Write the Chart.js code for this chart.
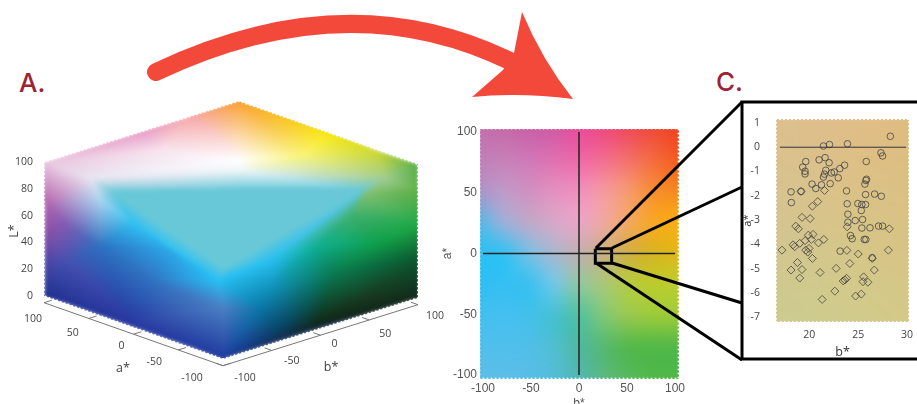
<!DOCTYPE html>
<html>
<head>
<meta charset="utf-8">
<title>CIELAB colour space</title>
<script src="https://cdn.jsdelivr.net/npm/chart.js@4"></script>
<style>
    html, body { margin: 0; padding: 0; width: 917px; height: 404px; overflow: hidden; background: #fff; }
    canvas, svg { position: absolute; }
    #chartCube { left: 0; top: 90px; }
    #chartSlice { left: 440px; top: 118px; }
    #chartZoom { left: 741px; top: 105px; }
    #overlay, #zoomLines { left: 0; top: 0; }
    .letter { font: 500 26px Inter, sans-serif; fill: #9b2335; }
</style>
</head>
<body>
<svg id="overlay" width="917" height="404">
    <path d="M156,72 Q347,-19 512,62" fill="none" stroke="#f2493b" stroke-width="18" stroke-linecap="round"/>
    <path d="M522,12 Q542,60 573,99 Q520,92 472,97 L503,70 L514,53 Z" fill="#f2493b"/>
    <text class="letter" x="19" y="92">A.</text>
    <text class="letter" x="716" y="91">C.</text>
    <rect x="742" y="102" width="190" height="257" fill="#fff" stroke="#000" stroke-width="3"/>
</svg>
<canvas id="chartCube" width="450" height="314"></canvas>
<canvas id="chartSlice" width="260" height="293"></canvas>
<canvas id="chartZoom" width="190" height="255"></canvas>
<svg id="zoomLines" width="917" height="404">
    <g stroke="#000" stroke-width="3">
        <line x1="596" y1="248" x2="742" y2="102"/>
        <line x1="612" y1="248" x2="742" y2="187"/>
        <line x1="612" y1="263" x2="742" y2="303"/>
        <line x1="596" y1="263" x2="742" y2="360"/>
    </g>
</svg>
<script>
// Panel A axes
const cubeATicks = [100, 50, 0, -50, -100];
const cubeBTicks = [-100, -50, 0, 50, 100];
const cubeLTicks = [0, 20, 40, 60, 80, 100];

const sliceRows = [
    ['#c070b0', '#c46aa8', '#c860a8', '#d05aa5', '#e84c9a', '#ee4a80', '#ef4a5a', '#ef4a38', '#ef4423'],
    ['#c080b8', '#c880b8', '#d078b8', '#e070b0', '#ee68a8', '#f26e90', '#f4706a', '#f56b3f', '#f45a20'],
    ['#ac94c8', '#c09ac8', '#d090c0', '#e590c0', '#f090bf', '#f59a9f', '#f79a6f', '#f78d2e', '#f58a1f'],
    ['#55b8e8', '#a0b0d8', '#c0a8c8', '#d8a8c8', '#eaa5c8', '#f0a8a0', '#f3a860', '#f8a820', '#fbae14'],
    ['#2cc0f2', '#30c2f4', '#78c0e4', '#a8b8d0', '#c0b0b0', '#c8b080', '#d0b040', '#d8b420', '#e0b818'],
    ['#30bef2', '#35bff2', '#38c0f0', '#70c8e8', '#90c8a0', '#a8c878', '#b4cc40', '#bccc2c', '#bccd30'],
    ['#44bff0', '#45c0f0', '#42c0ea', '#44c0d0', '#50c0a0', '#80c878', '#98c850', '#9acb3a', '#9ccb38'],
    ['#50bfec', '#50bfec', '#50bfe8', '#50bfd0', '#50b8a0', '#55b870', '#50b84a', '#4fb848', '#4fb848'],
    ['#5cbee8', '#5cbee8', '#58bde6', '#55bcd8', '#50b8b0', '#5ab880', '#58b85c', '#50b848', '#4fb848']
];
const sliceHorizontalB = [-100, 100];
const sliceVerticalA = [100, -100];
const zoomBoxB = [17, 34];
const zoomBoxA = [4, -8];

// Panel C: background colours and the two groups of samples
const zoomRows = [
    ['#dcc08e', '#e0bd88', '#e0bc80'],
    ['#d4c490', '#d8c488', '#d8c284'],
    ['#cccb90', '#cfcc8c', '#d3c988']
];
const circleB = [28.29, 21.45, 22.07, 23.91, 27.33, 27.5, 21.62, 21.01, 22.03, 25.83, 19.64, 19.33, 19.57, 19.57, 23.61, 23.13, 22.55, 22.27, 21.69, 21.56, 21.45, 22.96, 25.86, 25.79, 25.69, 20.29, 21.25, 22.14, 20.67, 18.14, 19.16, 23.81, 25.76, 26.68, 27.37, 18.17, 23.88, 24.97, 25.76, 25.38, 25.32, 23.95, 24.7, 25.45, 23.95, 25.38, 26.21, 27.09, 27.5, 24.22, 24.39, 25.62, 25.79, 23.16, 26.44];
const circleA = [0.45, 0.05, 0.11, 0.14, -0.23, -0.36, -0.43, -0.52, -0.64, -0.59, -0.59, -0.82, -0.99, -1.1, -0.74, -0.88, -1.02, -1.06, -0.95, -1.11, -1.23, -1.26, -1.32, -1.37, -1.52, -1.52, -1.55, -1.5, -1.7, -1.84, -1.82, -1.8, -1.95, -1.93, -2.02, -2.28, -2.33, -2.32, -2.36, -2.36, -2.61, -2.76, -3.02, -2.98, -3.09, -3.33, -3.32, -3.25, -3.25, -3.64, -3.77, -3.8, -3.8, -4.28, -4.55];
const diamondB = [21.56, 19.16, 20.87, 20.32, 19.26, 20.09, 18.62, 18.89, 23.88, 28.19, 17.21, 18.34, 18.51, 19.03, 19.57, 19.91, 20.39, 20.22, 21.49, 20.94, 19.98, 19.64, 19.85, 20.32, 23.85, 25.01, 28.09, 26.44, 24.15, 18.79, 18.14, 19.26, 19.03, 21.11, 22.75, 26.65, 25.56, 23.81, 23.64, 23.47, 25.49, 26, 22.62, 21.32, 24.74, 25.32];
const diamondA = [-1.78, -1.82, -2.24, -2.43, -2.89, -2.94, -3.25, -3.36, -3.28, -3.36, -4.24, -4.02, -4.1, -3.96, -3.85, -3.62, -3.59, -3.8, -3.8, -3.94, -4.17, -4.24, -4.32, -4.58, -4.25, -4.4, -4.24, -4.58, -4.79, -4.75, -5.06, -5.04, -5.39, -5.16, -4.99, -5.06, -5.34, -5.4, -5.47, -5.51, -5.54, -5.56, -5.93, -6.27, -6.13, -6.05];
const zeroLineB = [17, 29.9];

// Colour mesh of the cube surface, page position and colour of each corner
const cubeMeshPoints = [
    [240, 100, '#f9a02c'], [140, 131, '#e89cc8'], [44, 162, '#e8c4de'], [330, 131, '#f8e60c'], [418, 164, '#58b048'],
    [375, 150, '#cfd92a'], [190, 116, '#f6a8a8'], [240, 160, '#ffffff'], [160, 150, '#f8e4ee'], [300, 155, '#faf47a'],
    [90, 178, '#e8e4f0'], [385, 178, '#a0cc90'], [240, 170, '#eef6f8'], [113, 192, '#68c8d8'], [360, 190, '#68c8d8'],
    [240, 190, '#68c8d8'], [223, 267, '#68c8d8'], [44, 200, '#b868b0'], [44, 228, '#9050a8'], [44, 262, '#4c44a4'],
    [44, 296, '#20308f'], [100, 200, '#a8d4f0'], [133, 223, '#30c0f2'], [100, 247, '#2c70c0'], [67, 225, '#7c5cb4'],
    [67, 262, '#4450b0'], [133, 323, '#2838a0'], [170, 250, '#2ca8e8'], [217, 280, '#28c0f4'], [223, 307, '#4a80c4'],
    [223, 359, '#1e3a9e'], [150, 280, '#3070c0'], [273, 258, '#28c0f0'], [317, 245, '#10b090'], [350, 215, '#40b070'],
    [383, 240, '#10a048'], [418, 190, '#60b048'], [418, 223, '#22a848'], [418, 257, '#0c5a30'], [418, 298, '#12261a'],
    [367, 297, '#18381f'], [333, 273, '#0a7a50'], [273, 287, '#1090b8'], [260, 307, '#0a78a8'], [283, 330, '#083c5c'],
    [317, 323, '#102818'], [240, 330, '#1a60a8'], [365, 195, '#7cbe70']
];
const cubeMeshTriangles = [
    [7, 0, 6], [7, 6, 8], [6, 1, 8], [8, 1, 2], [8, 2, 10], [7, 8, 10], [7, 10, 12], [7, 0, 9], [0, 3, 9], [3, 5, 9],
    [5, 4, 11], [5, 11, 9], [9, 11, 12], [9, 12, 7], [0, 1, 6], [10, 13, 15], [10, 15, 12], [12, 15, 14], [12, 14, 11], [11, 14, 47],
    [4, 11, 36], [11, 47, 36], [47, 14, 34], [47, 34, 37], [47, 37, 36], [13, 15, 16], [15, 14, 16], [14, 34, 32], [14, 32, 16], [16, 32, 28],
    [34, 33, 32], [34, 35, 33], [34, 37, 35], [37, 38, 35], [35, 38, 41], [35, 41, 33], [38, 39, 40], [38, 40, 41], [33, 41, 42], [33, 42, 32],
    [32, 42, 28], [41, 40, 45], [41, 45, 44], [41, 44, 42], [42, 44, 43], [42, 43, 28], [28, 43, 29], [43, 46, 29], [43, 44, 46], [44, 30, 46],
    [46, 30, 29], [44, 45, 30], [45, 39, 30], [40, 39, 45], [13, 16, 22], [16, 28, 22], [13, 22, 21], [10, 13, 21], [2, 10, 17], [10, 21, 17],
    [17, 21, 24], [21, 22, 23], [21, 23, 24], [17, 24, 18], [18, 24, 25], [18, 25, 19], [24, 23, 25], [19, 25, 20], [25, 23, 26], [25, 26, 20],
    [20, 26, 30], [23, 22, 27], [22, 28, 27], [23, 27, 31], [27, 28, 31], [23, 31, 26], [31, 28, 29], [31, 29, 26], [26, 29, 30]
];

const labelFont = '"Open Sans", sans-serif';
const sliceFont = '"Liberation Sans", sans-serif';

/**
 * Oblique view of the a*, b*, L* box, result is in page pixels
 */
function project(a, b, L) {
    const ta = (a + 100) / 200;
    const tb = (b + 100) / 200;
    return { x: 223 - 179 * ta + 195 * tb, y: 359 - 63 * ta - 61 * tb - 1.34 * L };
}

function hexToRgb(hex) {
    return [1, 3, 5].map(i => parseInt(hex.substr(i, 2), 16));
}

/**
 * Plugin: paints a table of colours behind the datasets, positioned by the chart's scales
 */
const colorFieldPlugin = {
    id: 'colorField',
    beforeDatasetsDraw(chart, args, opts) {
        const { ctx, scales } = chart;
        const rows = opts.rows;
        const off = document.createElement('canvas');
        off.width = rows[0].length;
        off.height = rows.length;
        const offCtx = off.getContext('2d');
        rows.forEach((row, r) => row.forEach((color, c) => {
            offCtx.fillStyle = color;
            offCtx.fillRect(c, r, 1, 1);
        }));
        const left = scales.x.getPixelForValue(opts.xRange[0]) - opts.pad;
        const right = scales.x.getPixelForValue(opts.xRange[1]) + opts.pad;
        const top = scales.y.getPixelForValue(opts.yRange[0]) - opts.pad;
        const bottom = scales.y.getPixelForValue(opts.yRange[1]) + opts.pad;
        ctx.save();
        ctx.imageSmoothingEnabled = true;
        ctx.imageSmoothingQuality = 'high';
        ctx.drawImage(off, 0.5, 0.5, off.width - 1, off.height - 1, left, top, right - left, bottom - top);
        // little white dots along the rim, the source was built from round markers
        ctx.strokeStyle = '#fff';
        ctx.lineWidth = 2;
        ctx.lineCap = 'round';
        ctx.setLineDash([0, 4]);
        ctx.strokeRect(left, top, right - left, bottom - top);
        ctx.restore();
    }
};

/**
 * Plugin: colours the visible sides of the cube and writes its axis labels
 */
const cubePlugin = {
    id: 'cubeSurface',
    beforeDatasetsDraw(chart) {
        const { ctx, scales, width, height } = chart;
        const ox = scales.x.min;
        const oy = scales.y.min;
        const off = document.createElement('canvas');
        off.width = width;
        off.height = height;
        const offCtx = off.getContext('2d');
        const img = offCtx.createImageData(width, height);
        cubeMeshTriangles.forEach(tri => {
            const [p0, p1, p2] = tri.map(i => cubeMeshPoints[i]);
            const [c0, c1, c2] = tri.map(i => hexToRgb(cubeMeshPoints[i][2]));
            const det = (p1[1] - p2[1]) * (p0[0] - p2[0]) + (p2[0] - p1[0]) * (p0[1] - p2[1]);
            const minX = Math.floor(Math.min(p0[0], p1[0], p2[0])) - 2;
            const maxX = Math.ceil(Math.max(p0[0], p1[0], p2[0])) + 2;
            const minY = Math.floor(Math.min(p0[1], p1[1], p2[1])) - 2;
            const maxY = Math.ceil(Math.max(p0[1], p1[1], p2[1])) + 2;
            for (let y = minY; y <= maxY; y++) {
                for (let x = minX; x <= maxX; x++) {
                    let w0 = ((p1[1] - p2[1]) * (x - p2[0]) + (p2[0] - p1[0]) * (y - p2[1])) / det;
                    let w1 = ((p2[1] - p0[1]) * (x - p2[0]) + (p0[0] - p2[0]) * (y - p2[1])) / det;
                    let w2 = 1 - w0 - w1;
                    if (w0 < -0.03 || w1 < -0.03 || w2 < -0.03) continue;
                    const px = x - ox;
                    const py = y - oy;
                    if (px < 0 || py < 0 || px >= width || py >= height) continue;
                    const at = (py * width + px) * 4;
                    for (let k = 0; k < 3; k++) {
                        img.data[at + k] = w0 * c0[k] + w1 * c1[k] + w2 * c2[k];
                    }
                    img.data[at + 3] = 255;
                }
            }
        });
        offCtx.putImageData(img, 0, 0);

        const outline = [
            project(-100, -100, 0), project(100, -100, 0), project(100, -100, 100),
            project(100, 100, 100), project(-100, 100, 100), project(-100, 100, 0)
        ];
        const tracePath = () => {
            ctx.beginPath();
            outline.forEach((p, i) => {
                const x = scales.x.getPixelForValue(p.x);
                const y = scales.y.getPixelForValue(p.y);
                if (i === 0) ctx.moveTo(x, y); else ctx.lineTo(x, y);
            });
            ctx.closePath();
        };
        ctx.save();
        tracePath();
        ctx.clip();
        ctx.filter = 'blur(2px)';
        ctx.drawImage(off, 0, 0);
        ctx.restore();
        ctx.save();
        tracePath();
        ctx.strokeStyle = '#fff';
        ctx.lineWidth = 2;
        ctx.lineCap = 'round';
        ctx.setLineDash([0, 4]);
        ctx.stroke();
        ctx.restore();
    },
    afterDatasetsDraw(chart) {
        const { ctx, scales } = chart;
        const put = (text, pos, dx, dy, align) => {
            ctx.textAlign = align;
            ctx.fillText(text, scales.x.getPixelForValue(pos.x) + dx, scales.y.getPixelForValue(pos.y) + dy);
        };
        // per tick shifts, the labels in the source do not sit at a constant distance
        const aShift = [[-11, 16], [-16, 15], [-12, 12], [-24, 12], [-31, 12]];
        const bShift = [[22, 12], [20, 11], [14, 9], [16, 14], [17, 11]];
        ctx.save();
        ctx.fillStyle = '#444';
        ctx.textBaseline = 'middle';
        ctx.font = '10.5px ' + labelFont;
        cubeATicks.forEach((v, i) => put(String(v), project(v, -100, -5), aShift[i][0], aShift[i][1], 'center'));
        cubeBTicks.forEach((v, i) => put(String(v), project(-100, v, -5), bShift[i][0], bShift[i][1], 'center'));
        cubeLTicks.forEach(v => put(String(v), project(100, -100, v), -11, 0, 'right'));
        ctx.font = '12.5px ' + labelFont;
        ctx.textAlign = 'center';
        ctx.fillText('a*', 123, 278);
        ctx.fillText('b*', 331, 277);
        ctx.translate(14, 141);
        ctx.rotate(-Math.PI / 2);
        ctx.fillText('L*', 0, 0);
        ctx.restore();
    }
};

function cubeAxisPath(ticks, edge) {
    const pts = [edge(ticks[0], 0), edge(ticks[ticks.length - 1], 0)];
    ticks.forEach(v => pts.push({ x: null, y: null }, edge(v, 0), edge(v, 8)));
    return pts;
}

// Panel A
new Chart(document.getElementById('chartCube'), {
    type: 'scatter',
    plugins: [cubePlugin],
    data: {
        datasets: [
            {
                data: cubeAxisPath(cubeATicks, (v, inset) => project(v, -100 + inset, -5)),
                showLine: true, borderColor: '#777', borderWidth: 1, pointRadius: 0, spanGaps: false
            },
            {
                data: cubeAxisPath(cubeBTicks, (v, inset) => project(-100 + inset, v, -5)),
                showLine: true, borderColor: '#777', borderWidth: 1, pointRadius: 0, spanGaps: false
            }
        ]
    },
    options: {
        responsive: false,
        animation: false,
        layout: { padding: 0 },
        scales: {
            x: { display: false, min: 0, max: 450 },
            y: { display: false, min: 90, max: 404, reverse: true }
        },
        plugins: { legend: { display: false }, tooltip: { enabled: false } }
    }
});

// Panel B
new Chart(document.getElementById('chartSlice'), {
    type: 'scatter',
    plugins: [colorFieldPlugin],
    data: {
        datasets: [
            {
                data: sliceHorizontalB.map(b => ({ x: b, y: 0 })),
                showLine: true, borderColor: '#222', borderWidth: 1.5, pointRadius: 0
            },
            {
                data: sliceVerticalA.map(a => ({ x: 0, y: a })),
                showLine: true, borderColor: '#222', borderWidth: 1.5, pointRadius: 0
            },
            {
                data: [
                    { x: zoomBoxB[0], y: zoomBoxA[0] }, { x: zoomBoxB[1], y: zoomBoxA[0] },
                    { x: zoomBoxB[1], y: zoomBoxA[1] }, { x: zoomBoxB[0], y: zoomBoxA[1] },
                    { x: zoomBoxB[0], y: zoomBoxA[0] }
                ],
                showLine: true, borderColor: '#000', borderWidth: 3, pointRadius: 0
            }
        ]
    },
    options: {
        responsive: false,
        animation: false,
        layout: { padding: { top: 14, right: 25, left: 0, bottom: 0 } },
        scales: {
            x: {
                min: -100, max: 100,
                grid: { display: false }, border: { display: false },
                ticks: { stepSize: 50, maxRotation: 0, padding: -2, color: '#555', font: { family: sliceFont, size: 12 } },
                title: { display: true, text: 'b*', color: '#555', padding: { top: 1, bottom: 0 }, font: { family: sliceFont, size: 12 } },
                afterFit: scale => { scale.height = 36; }
            },
            y: {
                min: -100, max: 100,
                grid: { display: false }, border: { display: false },
                ticks: { stepSize: 50, padding: -2, color: '#555', font: { family: sliceFont, size: 12 } },
                title: { display: true, text: 'a*', color: '#555', padding: 0, font: { family: sliceFont, size: 12 } },
                afterFit: scale => { scale.width = 43; }
            }
        },
        plugins: {
            legend: { display: false },
            tooltip: { enabled: false },
            colorField: { rows: sliceRows, xRange: [-100, 100], yRange: [100, -100], pad: 3.5 }
        }
    }
});

// Panel C
new Chart(document.getElementById('chartZoom'), {
    type: 'scatter',
    plugins: [colorFieldPlugin],
    data: {
        datasets: [
            {
                data: zeroLineB.map(b => ({ x: b, y: 0 })),
                showLine: true, borderColor: '#333', borderWidth: 1, pointRadius: 0
            },
            {
                label: 'circles',
                data: circleB.map((b, i) => ({ x: b, y: circleA[i] })),
                pointStyle: 'circle', pointRadius: 3.3, borderColor: '#444', borderWidth: 0.8, backgroundColor: 'transparent'
            },
            {
                label: 'diamonds',
                data: diamondB.map((b, i) => ({ x: b, y: diamondA[i] })),
                pointStyle: 'rectRot', pointRadius: 4, borderColor: '#444', borderWidth: 0.8, backgroundColor: 'transparent'
            }
        ]
    },
    options: {
        responsive: false,
        animation: false,
        layout: { padding: { top: 14, right: 22, left: 0, bottom: 0 } },
        scales: {
            x: {
                min: 16.6, max: 30.2,
                grid: { display: false }, border: { display: false },
                ticks: { stepSize: 5, includeBounds: false, maxRotation: 0, padding: -1, color: '#444', font: { family: labelFont, size: 10.5 } },
                title: { display: true, text: 'b*', color: '#333', padding: { top: 1, bottom: 0 }, font: { family: labelFont, size: 12.5 } },
                afterFit: scale => { scale.height = 38; }
            },
            y: {
                min: -7.2, max: 1.15,
                grid: { display: false }, border: { display: false },
                ticks: { stepSize: 1, includeBounds: false, padding: 8, color: '#444', font: { family: labelFont, size: 10.5 } },
                title: { display: true, text: 'a*', color: '#333', padding: 0, font: { family: labelFont, size: 11 } },
                afterFit: scale => { scale.width = 35; }
            }
        },
        plugins: {
            legend: { display: false },
            tooltip: { enabled: false },
            colorField: { rows: zoomRows, xRange: [16.6, 30.2], yRange: [1.15, -7.2], pad: 0 }
        }
    }
});
</script>
</body>
</html>
